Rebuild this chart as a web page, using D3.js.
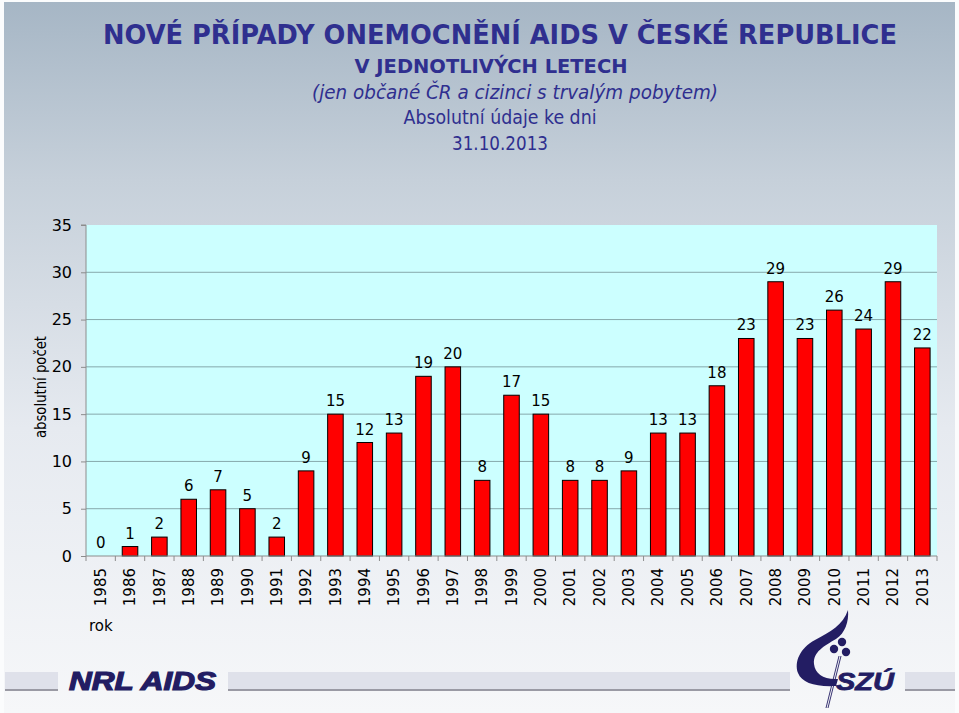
<!DOCTYPE html>
<html><head><meta charset="utf-8">
<script src="https://cdn.jsdelivr.net/npm/d3@7"></script>
<style>html,body{margin:0;padding:0;background:#fff;}svg{display:block;}</style>
</head><body>
<script>
const years = ["1985","1986","1987","1988","1989","1990","1991","1992","1993","1994","1995","1996","1997","1998","1999","2000","2001","2002","2003","2004","2005","2006","2007","2008","2009","2010","2011","2012","2013"];
const cases = [0,1,2,6,7,5,2,9,15,12,13,19,20,8,17,15,8,8,9,13,13,18,23,29,23,26,24,29,22];
const yTicks = [0,5,10,15,20,25,30,35];
const titleLines = ["NOVÉ PŘÍPADY ONEMOCNĚNÍ AIDS V ČESKÉ REPUBLICE","V JEDNOTLIVÝCH LETECH","(jen občané ČR a cizinci s trvalým pobytem)","Absolutní údaje ke dni","31.10.2013"];
const yLabel = "absolutní počet";
const xLabel = "rok";

const W = 959, H = 713;
const svg = d3.select("body").append("svg").attr("width", W).attr("height", H);
const defs = svg.append("defs");
const bg = defs.append("linearGradient").attr("id","bg").attr("x1",0).attr("y1",0).attr("x2",0).attr("y2",1);
bg.append("stop").attr("offset","0%").attr("stop-color","#a6b6c5");
bg.append("stop").attr("offset","25%").attr("stop-color","#c6d0da");
bg.append("stop").attr("offset","60%").attr("stop-color","#e6eaf0");
bg.append("stop").attr("offset","100%").attr("stop-color","#f6f7f9");
svg.append("rect").attr("x",0).attr("y",0).attr("width",W).attr("height",H).attr("fill","#fbfcfd");
svg.append("rect").attr("x",4).attr("y",2).attr("width",951).attr("height",H-2).attr("fill","url(#bg)");

// Title
const blue = "#2f2f8f";
const tl = [
  {x:500, y:44, size:27, weight:"bold", style:"normal", len:794},
  {x:491, y:73, size:19, weight:"bold", style:"normal", len:273},
  {x:515, y:99, size:20, weight:"normal", style:"italic", len:406},
  {x:500, y:124, size:20, weight:"normal", style:"normal", len:193},
  {x:500, y:150, size:20, weight:"normal", style:"normal", len:96}
];
titleLines.forEach((t,i)=>{
  svg.append("text").attr("x",tl[i].x).attr("y",tl[i].y).attr("text-anchor","middle")
    .attr("font-family","DejaVu Sans, sans-serif").attr("font-size",tl[i].size)
    .attr("font-weight",tl[i].weight).attr("font-style",tl[i].style)
    .attr("textLength",tl[i].len).attr("lengthAdjust","spacingAndGlyphs")
    .attr("fill",blue).text(t);
});

// Chart
const pLeft = 86, pRight = 937, pTop = 225, pBottom = 556;
const x = d3.scaleBand().domain(years).range([pLeft,pRight]).paddingInner(0.47).paddingOuter(0.235);
const xb = d3.scaleBand().domain(years).range([pLeft,pRight]);
const y = d3.scaleLinear().domain([0,35]).range([pBottom,pTop]);

svg.append("rect").attr("x",pLeft).attr("y",pTop).attr("width",pRight-pLeft).attr("height",pBottom-pTop).attr("fill","#ccffff");
svg.append("g").selectAll("line").data(yTicks.filter(d=>d>0 && d<35)).join("line")
  .attr("x1",pLeft).attr("x2",pRight).attr("y1",d=>y(d)).attr("y2",d=>y(d))
  .attr("stroke","#86a9ab").attr("stroke-width",1);

svg.append("g").selectAll("rect").data(cases).join("rect")
  .attr("x",(d,i)=>x(years[i])).attr("width",x.bandwidth())
  .attr("y",d=>y(d)).attr("height",d=>pBottom-y(d))
  .attr("fill","#ff0000").attr("stroke","#000").attr("stroke-width",1);

svg.append("g").selectAll("text").data(cases).join("text")
  .attr("x",(d,i)=>x(years[i])+x.bandwidth()/2).attr("y",d=>y(d)-8)
  .attr("text-anchor","middle").attr("font-family","DejaVu Sans, sans-serif").attr("font-size",15)
  .attr("fill","#000").text(d=>d);

// Y axis
const yAxis = d3.axisLeft(y).tickValues(yTicks).tickSize(5).tickPadding(9);
const gy = svg.append("g").attr("transform",`translate(${pLeft},0)`).call(yAxis);
gy.select(".domain").attr("stroke","#8c8c8c").attr("d",`M-5,${pTop}H0V${pBottom}`);
gy.selectAll(".tick line").attr("stroke","#8c8c8c");
gy.selectAll(".tick text").attr("font-family","DejaVu Sans, sans-serif").attr("font-size",16).attr("fill","#000");

// X axis
const xAxis = d3.axisBottom(xb).tickSize(0).tickPadding(0);
const gx = svg.append("g").attr("transform",`translate(0,${pBottom})`).call(xAxis);
gx.select(".domain").attr("stroke","#8c8c8c").attr("d",`M${pLeft},0H${pRight}`);
gx.selectAll(".tick text").attr("font-family","DejaVu Sans, sans-serif").attr("font-size",15).attr("fill","#000")
  .attr("transform","rotate(-90)").attr("text-anchor","end").attr("x",-12).attr("y",0).attr("dy","0.35em");
svg.append("g").selectAll("line").data(d3.range(years.length+1)).join("line")
  .attr("x1",i=>pLeft+i*xb.step()).attr("x2",i=>pLeft+i*xb.step())
  .attr("y1",pBottom).attr("y2",pBottom+5).attr("stroke","#8c8c8c");

svg.append("text").attr("transform","translate(46,387) rotate(-90)").attr("text-anchor","middle")
  .attr("font-family","DejaVu Sans, sans-serif").attr("font-size",16)
  .attr("textLength",102).attr("lengthAdjust","spacingAndGlyphs")
  .attr("fill","#000").text(yLabel);
svg.append("text").attr("x",89).attr("y",631)
  .attr("font-family","DejaVu Sans, sans-serif").attr("font-size",15).attr("fill","#000").text(xLabel);

// Footer bands
const band = svg.append("g");
[[5,58],[228,790],[905,955]].forEach(([a,b])=>{
  band.append("rect").attr("x",a).attr("y",672).attr("width",b-a).attr("height",17).attr("fill","#dfe1ea");
  band.append("rect").attr("x",a).attr("y",689).attr("width",b-a).attr("height",2).attr("fill","#9a9aa4");
});
const navy = "#231d63";
svg.append("text").attr("x",69).attr("y",690).attr("font-family","Liberation Sans, Arial, sans-serif")
  .attr("font-weight","bold").attr("font-style","italic").attr("font-size",25)
  .attr("textLength",147).attr("lengthAdjust","spacingAndGlyphs")
  .attr("fill",navy).attr("stroke",navy).attr("stroke-width",1.2).text("NRL AIDS");

// SZU logo
const logo = svg.append("g");
logo.append("path").attr("fill",navy)
  .attr("d","M848,610 C843,625 830,632 815,640 C800,648 794,662 798,673 C802,683 815,687 836,686 L838,679 C824,680 815,674 814,664 C813,652 824,646 836,639 C845,633 849,622 848,610 Z");
logo.append("circle").attr("cx",842).attr("cy",642).attr("r",4.2).attr("fill",navy);
logo.append("circle").attr("cx",834).attr("cy",649).attr("r",4.2).attr("fill",navy);
logo.append("circle").attr("cx",846).attr("cy",652).attr("r",4.2).attr("fill",navy);
logo.append("line").attr("x1",839).attr("y1",656).attr("x2",826).attr("y2",708).attr("stroke",navy).attr("stroke-width",0.9);
logo.append("line").attr("x1",841).attr("y1",656).attr("x2",828).attr("y2",708).attr("stroke",navy).attr("stroke-width",0.9);
logo.append("text").attr("x",836).attr("y",690).attr("font-family","Liberation Sans, Arial, sans-serif")
  .attr("font-weight","bold").attr("font-style","italic").attr("font-size",24)
  .attr("textLength",58).attr("lengthAdjust","spacingAndGlyphs")
  .attr("fill",navy).attr("stroke",navy).attr("stroke-width",0.8).text("SZÚ");
</script>
</body></html>
